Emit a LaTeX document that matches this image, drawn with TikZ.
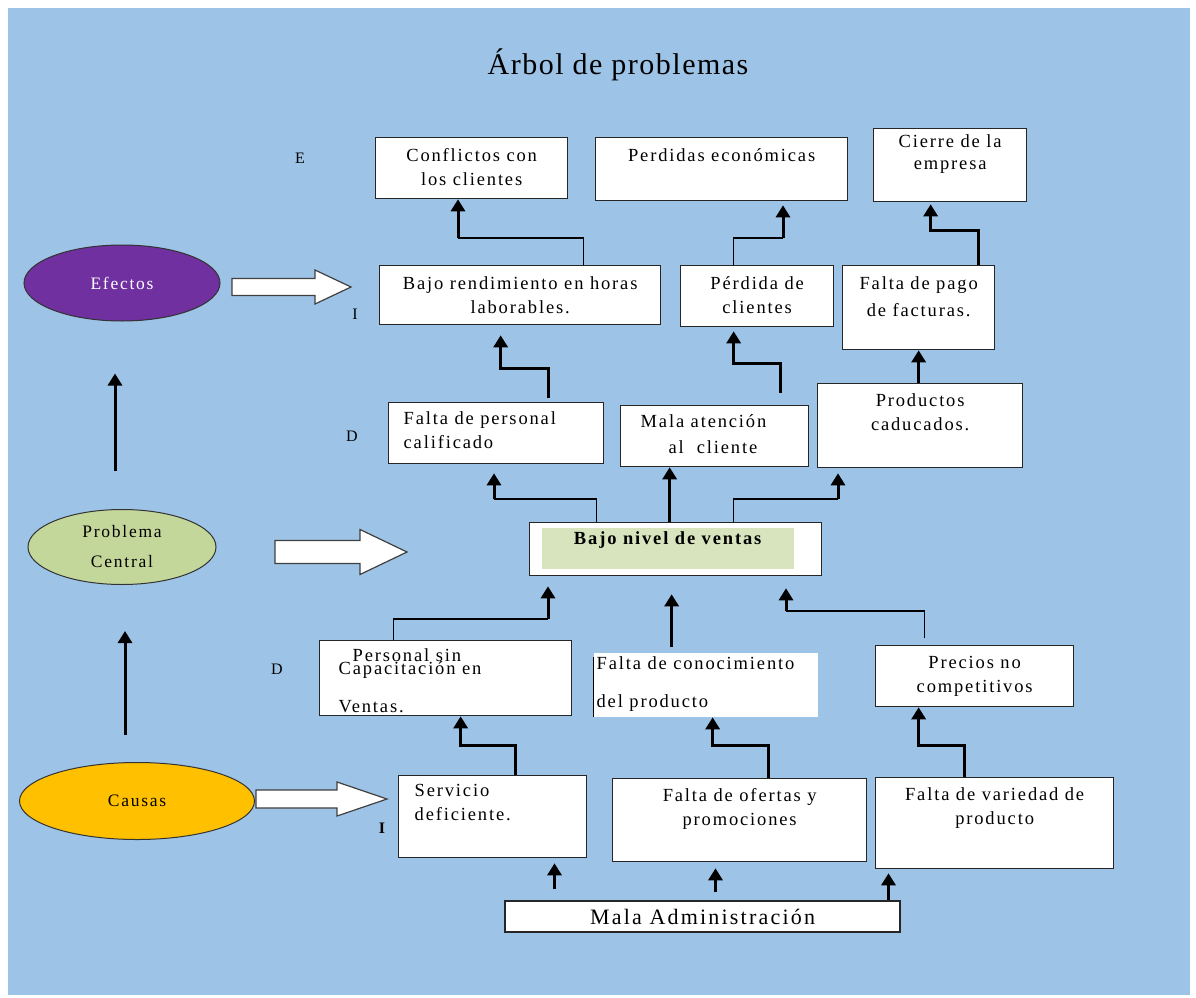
\documentclass[tikz,border=0pt]{standalone}
\usepackage{fontspec}
\setmainfont{Liberation Serif}[LetterSpace=10]
\usetikzlibrary{shapes.geometric, arrows.meta}

\definecolor{sky}{HTML}{9DC3E6}
\definecolor{violeta}{HTML}{7030A0}
\definecolor{olivo}{HTML}{C4D79B}
\definecolor{ambar}{HTML}{FFC000}
\definecolor{pasto}{HTML}{D7E4BD}

\tikzstyle{box} = [rectangle, anchor=north west, inner sep=0pt, draw=black!85, line width=1.3pt, fill=white, font=\fontsize{18.5}{24}\selectfont]
\tikzstyle{stage} = [ellipse, draw=black!80, line width=1pt, inner sep=0pt, align=center, font=\fontsize{17.5}{30}\selectfont]
\tikzstyle{push} = [line width=3pt, -{Triangle[width=14pt,length=12pt]}]
\tikzstyle{link} = [line width=1.5pt]
\tikzstyle{level} = [font=\fontsize{16}{18}\selectfont]

% width, height, top gap, alignment, text
\newcommand{\boxtext}[5]{\parbox[c][#2pt][t]{#1pt}{#4\vspace*{#3pt}\strut#5}}
% start x, y, head x, tip x, shaft half, head half
\newcommand{\blockarrow}[6]{\draw[line width=1.2pt, draw=black!75, fill=white] (#1,#2-#5) -- (#3,#2-#5) -- (#3,#2-#6) -- (#4,#2) -- (#3,#2+#6) -- (#3,#2+#5) -- (#1,#2+#5) -- cycle;}

\begin{document}
\begin{tikzpicture}[x=1pt, y=-1pt]
    \fill[white] (0,0) rectangle (1196,998);
    \fill[sky] (8,8) rectangle (1190,995);

    \node[font=\fontsize{30}{32}\selectfont\addfontfeature{LetterSpace=5}] (titulo) at (618,65) {Árbol de problemas};

    % columna izquierda
    \node[stage, fill=violeta, text=white, minimum width=196pt, minimum height=76pt] (efectos) at (122,283) {Efectos};
    \node[stage, fill=olivo, minimum width=188pt, minimum height=75pt] (problema) at (122,547) {Problema\\Central};
    \node[stage, fill=ambar, minimum width=235pt, minimum height=77pt] (causas) at (137,801) {Causas};

    \draw[push] ([xshift=-7pt,yshift=38pt]problema.north) -- ([xshift=-7pt,yshift=-52pt]efectos.south);
    \draw[push] ([xshift=-12pt,yshift=27pt]causas.north) -- ([xshift=3pt,yshift=-46pt]problema.south);

    \blockarrow{232}{287}{315}{351}{8.5}{17}
    \blockarrow{275}{552}{360}{407}{11.5}{22.5}
    \blockarrow{256}{799}{337}{387}{9}{17}

    \node[level] (nivelE) at (300,158) {E};
    \node[level] (nivelI) at (355,314) {I};
    \node[level] (nivelD) at (352,436) {D};
    \node[level] (nivelDc) at (277,669) {D};
    \node[level, font=\bfseries\fontsize{16}{18}\selectfont] (nivelIc) at (382,828) {I};

    % efectos
    \node[box] (conflictos) at (375,137) {\boxtext{192}{61}{7}{\centering}{Conflictos con\\los clientes}};
    \node[box] (perdidas) at (595,137) {\boxtext{252}{63}{7}{\centering}{Perdidas económicas}};
    \node[box] (cierre) at (873,128) {\boxtext{153}{73}{2}{\centering}{Cierre de la\\[-2pt]empresa}};
    \node[box] (bajoRend) at (379,265) {\boxtext{281}{59}{7}{\centering}{Bajo rendimiento en horas\\laborables.}};
    \node[box] (perdidaCli) at (680,265) {\boxtext{153}{61}{7}{\centering}{Pérdida de\\clientes}};
    \node[box] (faltaPago) at (842,265) {\boxtext{152}{84}{7}{\centering}{Falta de pago\\[3pt]de facturas.}};
    \node[box] (faltaPers) at (388,402) {\boxtext{215}{61}{5}{\raggedright\leftskip=15pt}{Falta de personal\\calificado}};
    \node[box] (malaAt) at (620,405) {\boxtext{188}{61}{5}{\raggedright\leftskip=20pt}{Mala atención\\[2pt]\hspace*{28pt}al\ \ cliente}};
    \node[box] (productos) at (817,383) {\boxtext{205}{84}{6}{\centering}{Productos\\caducados.}};

    % problema central
    \node[box, path picture={\fill[pasto] ([xshift=12pt,yshift=-5pt]path picture bounding box.north west) rectangle ([xshift=-28pt,yshift=7pt]path picture bounding box.south east);}] (central) at (529,522) {\boxtext{292}{53}{5}{\centering\advance\rightskip by 16pt}{\bfseries Bajo nivel de ventas}};

    % causas
    \node[box] (personalSin) at (319,640) {\boxtext{252}{75}{4}{\raggedright\leftskip=19pt}{\hspace*{14pt}Personal sin\\[-11pt]Capacitación en\\[14pt]Ventas.}};
    \node[box, draw=none] (conocimiento) at (593,652) {\boxtext{224}{64}{0}{\raggedright\leftskip=3pt}{Falta de conocimiento\\[14pt]del producto}};
    \draw[line width=1pt] ([yshift=-5pt]conocimiento.north west) -- (conocimiento.south west);
    \node[box] (precios) at (875,645) {\boxtext{198}{61}{6}{\centering}{Precios no\\competitivos}};
    \node[box] (servicio) at (398,775) {\boxtext{188}{82}{4}{\raggedright\leftskip=16pt}{Servicio\\deficiente.}};
    \node[box] (ofertas) at (612,778) {\boxtext{254}{83}{6}{\centering}{Falta de ofertas y\\promociones}};
    \node[box] (variedad) at (875,777) {\boxtext{238}{91}{6}{\centering}{Falta de variedad de\\producto}};
    \node[box, anchor=center, minimum width=395pt, minimum height=31pt, font=\fontsize{22}{24}\selectfont] (malaAdm) at (702.5,916.5) {Mala Administración};

    % conectores de efectos
    \coordinate (e1) at (458,238);
    \draw[link] ([xshift=63.5pt]bajoRend.north) |- (e1);
    \draw[push] (e1) -- (e1 |- conflictos.south);
    \coordinate (e2) at (783,238);
    \draw[link] ([xshift=-23.5pt]perdidaCli.north) |- (e2);
    \draw[push, shorten >=4pt] (e2) -- (e2 |- perdidas.south);
    \draw[push, shorten >=2pt] ([xshift=60pt]faltaPago.north) -- ++(0,35pt) -| ([xshift=-19.5pt]cierre.south);
    \draw[push, shorten <=4pt, shorten >=10pt] ([xshift=52.5pt]faltaPers.north) -- ++(0,34pt) -| ([xshift=-19.5pt]bajoRend.south);
    \draw[push, shorten <=12pt, shorten >=4pt] ([xshift=66pt]malaAt.north) -- ++(0,42pt) -| ([xshift=-23.5pt]perdidaCli.south);
    \draw[push] (productos.north -| faltaPago.south) -- (faltaPago.south);

    % del problema central
    \coordinate (p1) at (494,499);
    \draw[link] ([xshift=-79pt]central.north) |- (p1);
    \draw[push, shorten >=9pt] (p1) -- (p1 |- faltaPers.south);
    \coordinate (p2) at ([xshift=-6pt]central.north);
    \draw[push] (p2) -- (p2 |- malaAt.south);
    \coordinate (p3) at (838,499);
    \draw[link] ([xshift=58pt]central.north) |- (p3);
    \draw[push, shorten >=5pt] (p3) -- (p3 |- productos.south);

    % hacia el problema central
    \coordinate (q1) at (548,619);
    \draw[link] ([xshift=-52pt]personalSin.north) |- (q1);
    \draw[push, shorten >=10pt] (q1) -- (q1 |- central.south);
    \coordinate (q2) at ([xshift=-34pt,yshift=5pt]conocimiento.north);
    \draw[push, shorten >=18pt] (q2) -- (q2 |- central.south);
    \coordinate (q3) at (786,611);
    \draw[link] ([xshift=-50pt,yshift=7pt]precios.north) |- (q3);
    \draw[push, shorten >=12pt] (q3) -- (q3 |- central.south);

    % causas indirectas
    \draw[push] ([xshift=23pt]servicio.north) -- ++(0,30pt) -| ([xshift=15pt]personalSin.south);
    \draw[push] ([xshift=29pt]ofertas.north) -- ++(0,33pt) -| ([xshift=7pt]conocimiento.south);
    \draw[push] ([xshift=-30pt]variedad.north) -- ++(0,32pt) -| ([xshift=-56pt]precios.south);

    \coordinate (m1) at ([xshift=-148pt]malaAdm.north);
    \draw[push, shorten <=11pt, shorten >=5pt] (m1) -- (m1 |- servicio.south);
    \coordinate (m2) at ([xshift=13pt]malaAdm.north);
    \draw[push, shorten <=8pt, shorten >=6pt] (m2) -- (m2 |- ofertas.south);
    \coordinate (m3) at ([xshift=186pt]malaAdm.north);
    \draw[push, shorten >=4pt] (m3) -- (m3 |- variedad.south);
\end{tikzpicture}
\end{document}
